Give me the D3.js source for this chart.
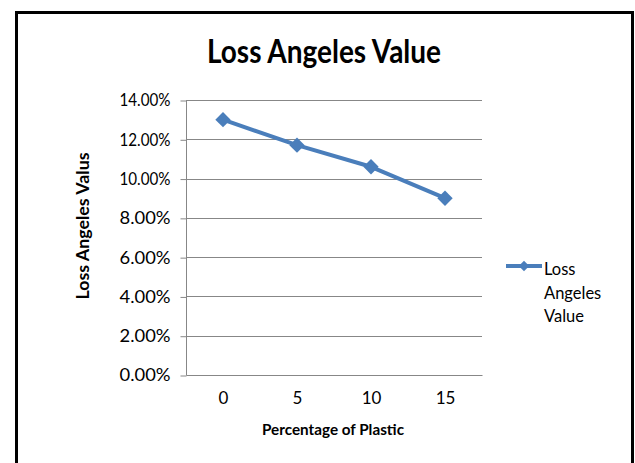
<!DOCTYPE html>
<html>
<head>
<meta charset="utf-8">
<script src="https://cdn.jsdelivr.net/npm/d3@7"></script>
<style>
  html, body { margin: 0; padding: 0; background: #fff; }
  svg { display: block; }
  text { font-family: Lato, "Open Sans", "Liberation Sans", sans-serif; fill: #000; }
</style>
</head>
<body>
<svg id="chart" width="635" height="463"></svg>
<script>
// Chart data
const categories = ["0", "5", "10", "15"];
const lossValues = [0.130, 0.117, 0.106, 0.090];
const yTicks = [0, 0.02, 0.04, 0.06, 0.08, 0.10, 0.12, 0.14];
const chartTitle = "Loss Angeles Value";
const xTitle = "Percentage of Plastic";
const yTitle = "Loss Angeles Valus";
const seriesName = ["Loss", "Angeles", "Value"];

const svg = d3.select("#chart");
const W = 635, H = 463;
const plot = { left: 186, right: 482, top: 100, bottom: 375 };
const lineColor = "#4a7ebb";

// Outer frame (open at the bottom edge of the view)
svg.append("path")
  .attr("d", `M16.5,${H + 5} V12.5 H632.5 V${H + 5}`)
  .attr("fill", "none")
  .attr("stroke", "#000")
  .attr("stroke-width", 3);

const x = d3.scaleBand().domain(categories).range([plot.left, plot.right]);
const y = d3.scaleLinear().domain([0, 0.14]).range([plot.bottom, plot.top]);

// Horizontal gridlines
svg.append("g")
  .selectAll("line")
  .data(yTicks.filter(d => d > 0))
  .join("line")
  .attr("x1", plot.left).attr("x2", plot.right)
  .attr("y1", d => Math.round(y(d)) + 0.5).attr("y2", d => Math.round(y(d)) + 0.5)
  .attr("stroke", "#878787").attr("stroke-width", 1);

// Y axis
const yAxis = svg.append("g")
  .attr("transform", `translate(${plot.left + 0.5},0.5)`)
  .call(d3.axisLeft(y).tickValues(yTicks).tickFormat(d3.format(".2%")).tickSize(6).tickPadding(10));
yAxis.select(".domain").attr("stroke", "#878787").attr("d", `M-0,${plot.top}V${plot.bottom}`);
yAxis.selectAll(".tick line").attr("stroke", "#878787");
yAxis.selectAll(".tick text")
  .attr("font-size", 17).attr("fill", "#000")
  .attr("textLength", 51).attr("lengthAdjust", "spacingAndGlyphs")
  .style("font-family", "Lato, 'Open Sans', sans-serif");

// X axis
const xAxis = svg.append("g")
  .attr("transform", `translate(0.5,${plot.bottom + 0.5})`)
  .call(d3.axisBottom(x).tickSize(0).tickPadding(16));
xAxis.select(".domain").attr("stroke", "#878787").attr("d", `M${plot.left},0H${plot.right}`);
xAxis.selectAll(".tick text")
  .attr("font-size", 17).attr("fill", "#000")
  .style("font-family", "Lato, 'Open Sans', sans-serif");

// Title
svg.append("text")
  .attr("x", 324).attr("y", 63)
  .attr("text-anchor", "middle")
  .attr("font-size", 32).attr("font-weight", "bold")
  .attr("textLength", 234).attr("lengthAdjust", "spacingAndGlyphs")
  .text(chartTitle);

// Axis titles
svg.append("text")
  .attr("x", 333).attr("y", 435)
  .attr("text-anchor", "middle")
  .attr("font-size", 16).attr("font-weight", "bold")
  .attr("textLength", 142).attr("lengthAdjust", "spacingAndGlyphs")
  .text(xTitle);

svg.append("text")
  .attr("transform", "translate(89,226) rotate(-90)")
  .attr("text-anchor", "middle")
  .attr("font-size", 16.5).attr("font-weight", "bold")
  .attr("textLength", 147).attr("lengthAdjust", "spacingAndGlyphs")
  .text(yTitle);

// Series line
const cx = d => x(d) + x.bandwidth() / 2;
const pts = categories.map((c, i) => [cx(c), y(lossValues[i])]);
svg.append("path")
  .datum(pts)
  .attr("d", d3.line())
  .attr("fill", "none")
  .attr("stroke", lineColor)
  .attr("stroke-width", 4)
  .attr("stroke-linejoin", "round");

// Diamond markers
const diamond = d3.symbol().type(d3.symbolDiamond2).size(150);
svg.append("g")
  .selectAll("path")
  .data(pts)
  .join("path")
  .attr("transform", d => `translate(${d[0]},${d[1]})`)
  .attr("d", diamond)
  .attr("fill", lineColor);

// Legend
const lg = svg.append("g");
lg.append("line")
  .attr("x1", 506).attr("x2", 542).attr("y1", 266).attr("y2", 266)
  .attr("stroke", lineColor).attr("stroke-width", 4);
lg.append("path")
  .attr("transform", "translate(524,266)")
  .attr("d", d3.symbol().type(d3.symbolDiamond2).size(70))
  .attr("fill", lineColor);
lg.selectAll("text")
  .data(seriesName)
  .join("text")
  .attr("x", 544)
  .attr("y", (d, i) => 275 + i * 23.5)
  .attr("font-size", 16.5)
  .text(d => d);
</script>
</body>
</html>
